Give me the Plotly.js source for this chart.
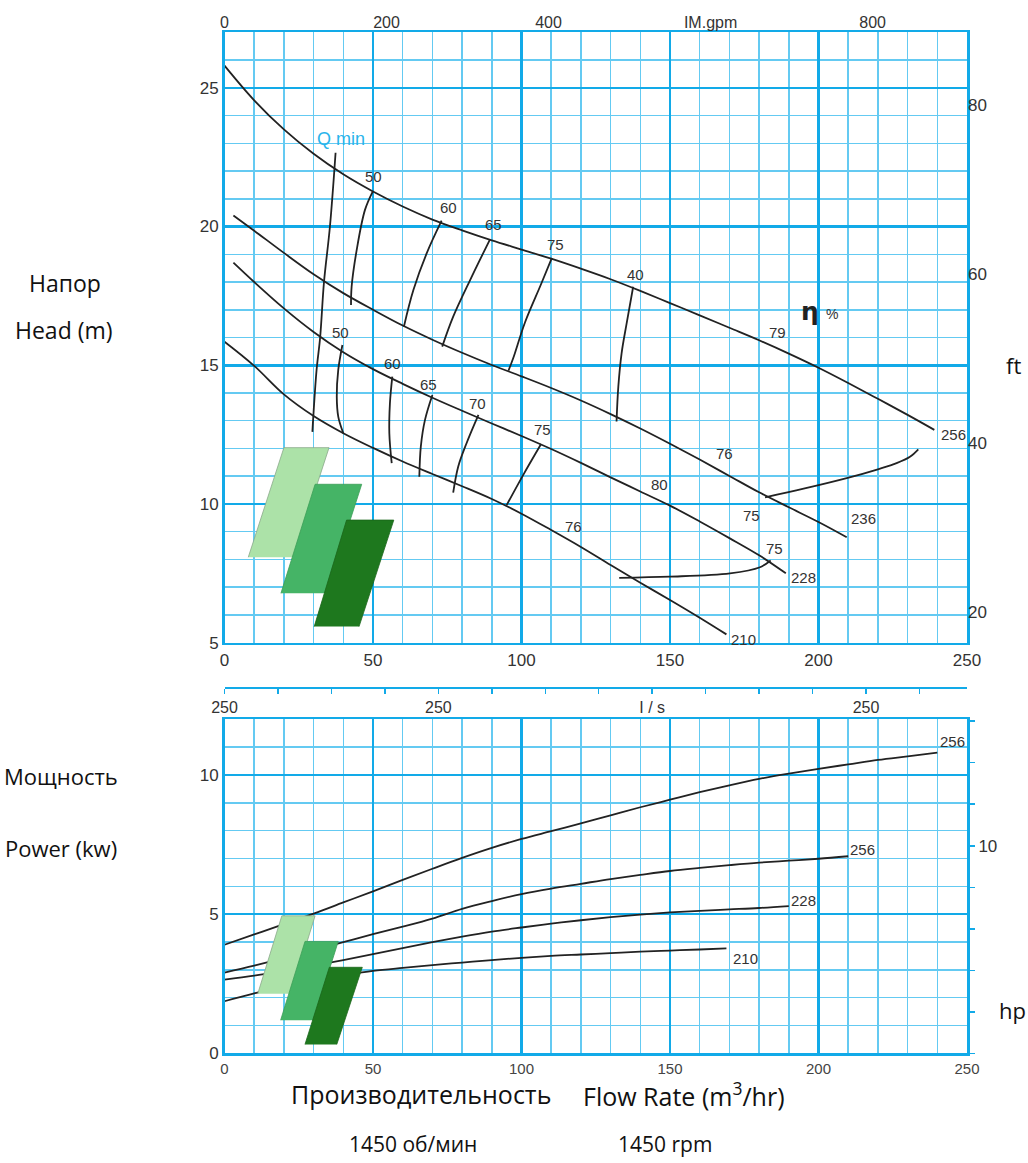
<!DOCTYPE html>
<html><head><meta charset="utf-8">
<script src="https://cdn.plot.ly/plotly-3.0.1.min.js"></script>
<style>body{margin:0;padding:0;background:#fff}#chart{width:1028px;height:1163px}</style>
</head><body><div id="chart"></div>
<script>
// ---------- HEAD (m) vs FLOW (m3/h) ----------
const flow256 = [0,10,20,30,40,50,60,70,80,90,100,110,120,130,140,150,160,170,180,190,200,210,220,230,239];
const head256 = [25.8,24.55,23.5,22.62,21.88,21.26,20.72,20.25,19.86,19.5,19.17,18.84,18.48,18.1,17.68,17.24,16.8,16.35,15.9,15.42,14.91,14.36,13.79,13.21,12.67];
const flow236 = [3,10,20,30,40,50,60,70,80,90,100,110,120,130,140,150,160,170,180,190,200,209.5];
const head236 = [20.4,19.85,19.05,18.28,17.6,17.0,16.43,15.92,15.45,15.01,14.6,14.18,13.73,13.24,12.72,12.17,11.6,11.01,10.42,9.88,9.35,8.8];
const flow228 = [3,10,20,30,40,50,60,70,80,90,100,110,120,130,140,150,160,170,180,189];
const head228 = [18.7,18.0,17.05,16.2,15.47,14.86,14.33,13.83,13.36,12.9,12.45,11.98,11.48,10.96,10.45,9.94,9.37,8.77,8.15,7.5];
const flow210 = [0,10,20,30,40,50,60,70,80,90,100,110,120,130,140,150,160,169];
const head210 = [15.85,14.98,13.95,13.17,12.55,12.02,11.53,11.08,10.64,10.18,9.65,9.06,8.45,7.8,7.16,6.54,5.9,5.3];

const qminFlow = [37.4,35.5,33.5,32.2,31.0,29.9,29.6];
const qminHead = [22.66,20.0,18.0,16.0,14.83,13.15,12.6];

// efficiency iso-lines (upper group)
const eff50aQ = [49.9,47.3,44.5,42.8,42.6],      eff50aH = [21.26,20.6,19.15,17.83,17.17];
const eff60aQ = [73.1,68.1,63.6,60.4],           eff60aH = [20.21,19.04,17.71,16.39];
const eff65aQ = [89.4,82.7,77.0,73.3],           eff65aH = [19.54,18.07,16.75,15.67];
const eff75aQ = [110.2,106.5,101.2,97.2,95.6],   eff75aH = [18.86,17.9,16.55,15.25,14.8];
const eff40aQ = [137.6,135.4,133.7,132.6,132.0], eff40aH = [17.83,16.51,15.43,14.23,12.97];
// efficiency iso-lines (lower group)
const eff50bQ = [39.7,38.3,37.8,38.3,40.0],      eff50bH = [15.73,14.83,13.87,13.15,12.55];
const eff60bQ = [56.5,55.7,55.5,56.3],           eff60bH = [14.59,13.63,12.55,11.47];
const eff65bQ = [70.0,67.5,66.1,65.6],           eff65bH = [13.93,13.03,12.07,10.98];
const eff70bQ = [85.5,81.5,78.7,77.0],           eff70bH = [13.21,12.19,11.35,10.41];
const eff75bQ = [106.6,100.6,95.0],              eff75bH = [12.16,11.05,9.96];
// 75 % contours on the right
const eff75cQ = [182,195,209.5,220,226.3,230.8,233.6], eff75cH = [10.24,10.55,10.93,11.25,11.47,11.7,11.97];
const eff75dQ = [132.9,150,170.2,180.3,183.9],         eff75dH = [7.34,7.38,7.5,7.72,7.96];

const headLabelText = ['50','60','65','75','40','79','76','80','75','75','76','50','60','65','70','75','256','236','228','210'];
const headLabelQ    = [50.3,75.4,90.5,111.5,138.5,186.1,168.5,146.6,177.3,185.1,117.4,39.1,56.6,68.6,85.3,107,245.4,215.3,195.1,174.9];
const headLabelH    = [21.8,20.7,20.06,19.34,18.28,16.18,11.83,10.69,9.6,8.38,9.18,16.18,15.05,14.29,13.63,12.69,12.52,9.48,7.36,5.12];

// ---------- POWER (kW) vs FLOW ----------
const pFlow256a = [0,10,20,30,40,50,60,70,80,90,100,110,120,130,140,150,160,170,180,190,200,210,220,230,240];
const power256a = [3.9,4.27,4.64,5.02,5.42,5.82,6.23,6.63,7.02,7.38,7.7,7.98,8.26,8.55,8.84,9.11,9.38,9.63,9.86,10.05,10.22,10.38,10.54,10.67,10.8];
const pFlow256b = [0,10,20,30,40,50,60,70,80,90,100,110,120,130,140,150,160,170,180,190,200,210];
const power256b = [2.9,3.15,3.42,3.71,3.99,4.28,4.55,4.84,5.19,5.47,5.72,5.92,6.09,6.26,6.41,6.55,6.66,6.76,6.85,6.92,6.99,7.08];
const pFlow228 = [0,10,20,30,40,50,60,70,80,90,100,110,120,130,140,150,160,170,180,190];
const power228 = [2.65,2.79,2.96,3.15,3.35,3.56,3.78,3.99,4.19,4.37,4.52,4.66,4.78,4.89,4.98,5.06,5.12,5.17,5.22,5.29];
const pFlow210 = [0,10,20,30,40,50,60,70,80,90,100,110,120,130,140,150,160,169];
const power210 = [1.87,2.15,2.4,2.62,2.8,2.96,3.07,3.17,3.26,3.35,3.43,3.5,3.55,3.6,3.65,3.69,3.73,3.77];

const powerLabelText = ['256','256','228','210'];
const powerLabelQ    = [245.2,214.9,195.1,175.3];
const powerLabelP    = [11.21,7.34,5.5,3.39];

// decorative logo parallelograms (data coords)
const logoHeadQ = [[8.0,20.0,35.2,23.2],[19.0,30.5,46.2,34.4],[30.2,41.1,57.0,45.3]];
const logoHeadH = [[8.08,12.03,12.03,8.08],[6.78,10.71,10.71,6.78],[5.58,9.42,9.42,5.58]];
const logoPowQ  = [[11.2,19.3,30.5,22.4],[18.9,27.1,38.3,29.9],[27.1,35.3,46.4,37.8]];
const logoPowP  = [[2.14,4.94,4.94,2.14],[1.19,4.02,4.02,1.19],[0.32,3.09,3.09,0.32]];
const logoFill  = ['#ACE2A8','#45B466','#1E781E'];
const logoEdge  = ['#8aa88a','#3c9e58','#1a661a'];

// secondary axis ticks
const gpmTicks = [0,200,400,600,800];
const gpmText  = ['0','200','400','IM.gpm','800'];
const ftTicks  = [20,40,60,80];
const lsTicks  = [0,20,40,60];
const lsText   = ['250','250','I / s','250'];
const hpTicks  = [10];
const hpText   = ['10'];

// ---------- build ----------
const MAJ = 'rgb(18,170,232)', MIN = 'rgb(100,202,242)';
const LC = '#222';
const traces = [];
function line(x, y, xa, ya, w) {
  traces.push({x:x, y:y, xaxis:xa, yaxis:ya, type:'scatter', mode:'lines',
    line:{color:LC, width:w||1.8, shape:'spline', smoothing:1}, hoverinfo:'skip', showlegend:false});
}
line(flow256, head256, 'x', 'y');
line(flow236, head236, 'x', 'y');
line(flow228, head228, 'x', 'y');
line(flow210, head210, 'x', 'y');
line(qminFlow, qminHead, 'x', 'y');
[[eff50aQ,eff50aH],[eff60aQ,eff60aH],[eff65aQ,eff65aH],[eff75aQ,eff75aH],[eff40aQ,eff40aH],
 [eff50bQ,eff50bH],[eff60bQ,eff60bH],[eff65bQ,eff65bH],[eff70bQ,eff70bH],[eff75bQ,eff75bH],
 [eff75cQ,eff75cH],[eff75dQ,eff75dH]].forEach(p => line(p[0], p[1], 'x', 'y'));

line(pFlow256a, power256a, 'x3', 'y3');
line(pFlow256b, power256b, 'x3', 'y3');
line(pFlow228, power228, 'x3', 'y3');
line(pFlow210, power210, 'x3', 'y3');

function logo(qs, vs, xa, ya) {
  for (let i = 0; i < 3; i++) {
    traces.push({x:qs[i], y:vs[i], xaxis:xa, yaxis:ya, type:'scatter', mode:'lines', fill:'toself',
      fillcolor:logoFill[i], line:{color:logoEdge[i], width:0.8}, hoverinfo:'skip', showlegend:false});
  }
}
logo(logoHeadQ, logoHeadH, 'x', 'y');
logo(logoPowQ, logoPowP, 'x3', 'y3');

// empty traces so that the secondary axes exist
traces.push({x:[], y:[], xaxis:'x2', yaxis:'y2', type:'scatter', showlegend:false, hoverinfo:'skip'});
traces.push({x:[], y:[], xaxis:'x4', yaxis:'y4', type:'scatter', showlegend:false, hoverinfo:'skip'});

const DOMX = [224.5/1028, 967/1028];
const TOPY = [1-642.7/1163, 1-32.3/1163];
const BOTY = [1-1053.3/1163, 1-719.3/1163];
const tickFont = {family:'Liberation Sans, Arial, sans-serif', size:17, color:'#333'};
const gridAxis = (range, dtick, mdtick) => ({
  range:range, dtick:dtick, tick0:0, showgrid:true, gridcolor:MAJ, gridwidth:2.5,
  minor:{dtick:mdtick, tick0:0, showgrid:true, gridcolor:MIN, gridwidth:1.5},
  showline:true, linecolor:MAJ, linewidth:2.5, mirror:true, zeroline:false, ticks:'',
  tickfont:tickFont, fixedrange:true
});

const annotations = [];
const numFont = {family:'Liberation Sans, Arial, sans-serif', size:15, color:'#333'};
for (let i = 0; i < headLabelText.length; i++) {
  annotations.push({x:headLabelQ[i], y:headLabelH[i], xref:'x', yref:'y', text:headLabelText[i],
    showarrow:false, xanchor:'center', yanchor:'middle', font:numFont});
}
for (let i = 0; i < powerLabelText.length; i++) {
  annotations.push({x:powerLabelQ[i], y:powerLabelP[i], xref:'x3', yref:'y3', text:powerLabelText[i],
    showarrow:false, xanchor:'center', yanchor:'middle', font:numFont});
}
annotations.push({x:39.3, y:23.15, xref:'x', yref:'y', text:'Q min', showarrow:false,
  font:{family:'Liberation Sans, Arial, sans-serif', size:18, color:'rgb(40,180,235)'}});
annotations.push({x:197.2, y:16.93, xref:'x', yref:'y', text:'<b>η</b>', showarrow:false,
  font:{family:'DejaVu Sans, sans-serif', size:25, color:'#222'}});
annotations.push({x:204.4, y:16.85, xref:'x', yref:'y', text:'%', showarrow:false,
  font:{family:'Liberation Sans, Arial, sans-serif', size:14, color:'#333'}});

const F = {family:'Open Sans, Noto Sans, sans-serif', size:19, color:'#111'};
function paperText(t, px, py, size) {
  annotations.push({x:px/1028, y:1-py/1163, xref:'paper', yref:'paper', text:t, showarrow:false,
    xanchor:'center', yanchor:'middle', font:Object.assign({}, F, {size:size||19})});
}
paperText('Напор', 65, 283, 23);
paperText('Head (m)', 64, 330, 23);
paperText('ft', 1013, 365, 22);
paperText('Мощность', 61, 776, 22);
paperText('Power (kw)', 61, 848, 22);
paperText('hp', 1012, 1010, 22);
paperText('Производительность', 421, 1094, 25);
paperText('Flow Rate (m<sup>3</sup>/hr)', 684, 1094, 25);
paperText('1450 об/мин', 413, 1144, 21);
paperText('1450 rpm', 665, 1144, 21);

const layout = {
  width:1028, height:1163, margin:{l:0, r:0, t:0, b:0},
  paper_bgcolor:'#fff', plot_bgcolor:'#fff', showlegend:false,
  xaxis: Object.assign(gridAxis([0,250], 50, 10), {domain:DOMX, anchor:'y'}),
  yaxis: Object.assign(gridAxis([5,27], 5, 1), {domain:TOPY, anchor:'x'}),
  xaxis2: {overlaying:'x', anchor:'y', side:'top', range:[0, 250*3.6661], tickmode:'array',
    tickvals:gpmTicks, ticktext:gpmText, showgrid:false, showline:false, zeroline:false, ticks:'',
    tickfont:{family:'Liberation Sans, Arial, sans-serif', size:16, color:'#333'}, fixedrange:true},
  yaxis2: {overlaying:'y', anchor:'x', side:'right', range:[5/0.3048, 27/0.3048], tickmode:'array',
    tickvals:ftTicks, showgrid:false, showline:false, zeroline:false, ticks:'',
    tickfont:tickFont, fixedrange:true},
  xaxis3: Object.assign(gridAxis([0,250], 50, 10), {domain:DOMX, anchor:'y3',
    tickfont:{family:'Liberation Sans, Arial, sans-serif', size:15, color:'#444'}}),
  yaxis3: Object.assign(gridAxis([0,12], 5, 1), {domain:BOTY, anchor:'x3'}),
  xaxis4: {overlaying:'x3', anchor:'free', position:1-688/1163, side:'bottom', range:[0, 250/3.6],
    tickmode:'array', tickvals:lsTicks, ticktext:lsText, ticks:'outside', ticklen:5, tickwidth:1.5,
    tickcolor:MAJ, minor:{dtick:5, tick0:0, ticks:'outside', ticklen:5, tickwidth:1.5, tickcolor:MAJ, showgrid:false},
    showline:true, linecolor:MAJ, linewidth:2, showgrid:false, zeroline:false,
    tickfont:{family:'Liberation Sans, Arial, sans-serif', size:16, color:'#333'}, fixedrange:true},
  yaxis4: {overlaying:'y3', anchor:'x3', side:'right', range:[0, 12/0.7457], tickmode:'array',
    tickvals:hpTicks, ticktext:hpText, ticks:'outside', ticklen:7, tickwidth:1.5, tickcolor:MAJ,
    minor:{dtick:2, tick0:0, ticks:'outside', ticklen:7, tickwidth:1.5, tickcolor:MAJ, showgrid:false},
    showgrid:false, showline:false, zeroline:false, tickfont:tickFont, fixedrange:true},
  annotations: annotations
};

Plotly.newPlot('chart', traces, layout, {staticPlot:true, displayModeBar:false});
</script></body></html>
